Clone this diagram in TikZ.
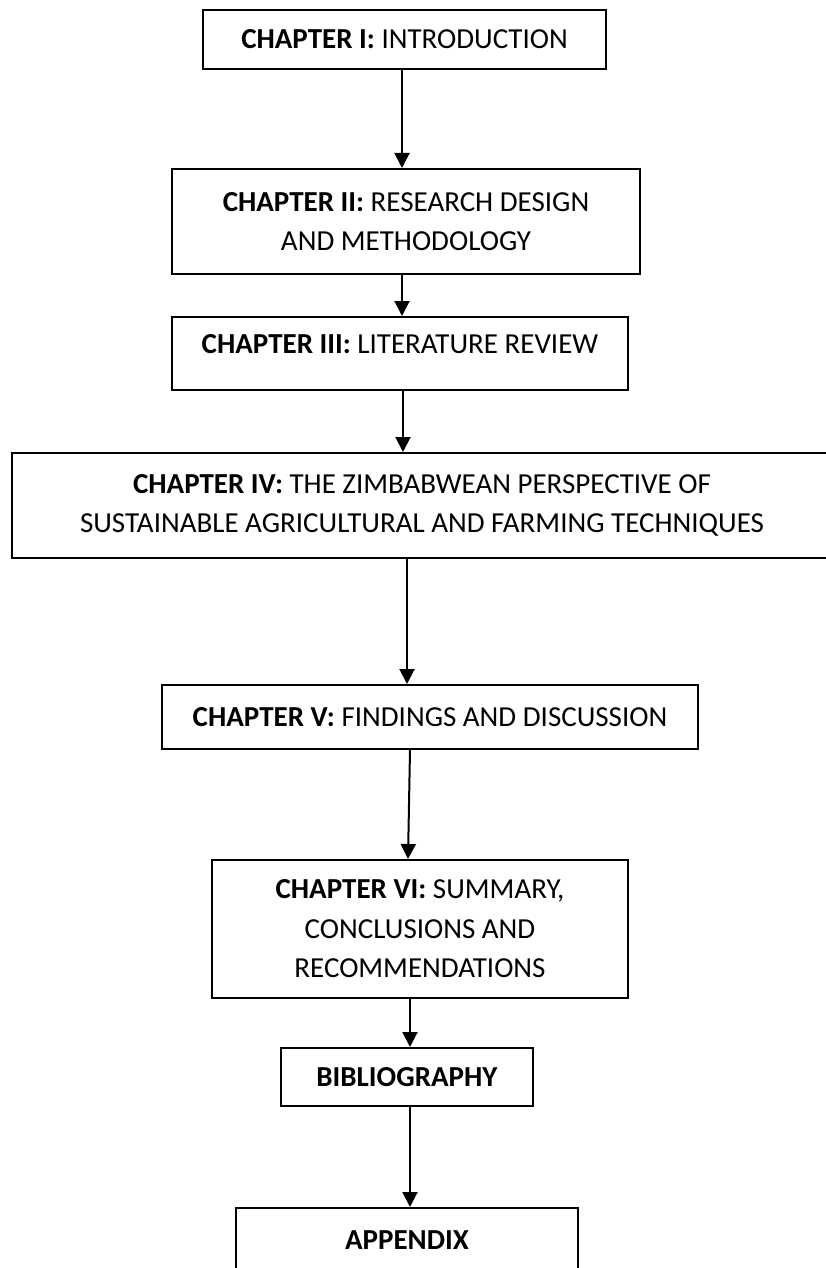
\documentclass[tikz,border=0pt]{standalone}
\usepackage{fontspec}
\setmainfont{Carlito}
\usetikzlibrary{arrows.meta}

\begin{document}
\begin{tikzpicture}[x=1pt, y=-1pt,
    chapbox/.style={draw, line width=1.7pt, anchor=north, align=center, inner sep=0pt,
        font=\fontsize{29}{39.5}\selectfont},
    flow/.style={line width=2pt, -{Triangle[width=15pt,length=15pt]}}]
        % Page frame
        \useasboundingbox (0,0) rectangle (825,1268);

        % The chapter boxes, from top to bottom
        \node[chapbox, minimum width=403pt, minimum height=59pt] (ch1) at (404.5,9)
            {\textbf{CHAPTER I:} INTRODUCTION};
        \node[chapbox, minimum width=468pt, minimum height=105pt] (ch2) at (406,168)
            {\textbf{CHAPTER II:} RESEARCH DESIGN\\AND METHODOLOGY};
        \node[chapbox, minimum width=456pt, minimum height=73pt, text depth=18pt] (ch3) at (400,316)
            {\textbf{CHAPTER III:} LITERATURE REVIEW};
        \node[chapbox, minimum width=820pt, minimum height=105pt] (ch4) at (422,452)
            {\textbf{CHAPTER IV:} THE ZIMBABWEAN PERSPECTIVE OF\\SUSTAINABLE AGRICULTURAL AND FARMING TECHNIQUES};
        \node[chapbox, minimum width=536pt, minimum height=64pt] (ch5) at (430,684)
            {\textbf{CHAPTER V:} FINDINGS AND DISCUSSION};
        \node[chapbox, minimum width=416pt, minimum height=138pt] (ch6) at (420,859)
            {\textbf{CHAPTER VI:} SUMMARY,\\CONCLUSIONS AND\\RECOMMENDATIONS};
        \node[chapbox, minimum width=252pt, minimum height=58pt] (bib) at (407,1047)
            {\textbf{BIBLIOGRAPHY}};
        \node[chapbox, minimum width=342pt, minimum height=64pt] (app) at (407,1207)
            {\textbf{APPENDIX}};

        % Arrows linking the chapters
        \draw[flow] ([xshift=-2.5pt]ch1.south) -- ([xshift=-4pt]ch2.north);
        \draw[flow] ([xshift=-4pt]ch2.south) -- ([xshift=2pt]ch3.north);
        \draw[flow] ([xshift=3pt]ch3.south) -- ([xshift=-19pt]ch4.north);
        \draw[flow] ([xshift=-15pt]ch4.south) -- ([xshift=-23pt]ch5.north);
        \draw[flow] ([xshift=-20pt]ch5.south) -- ([xshift=-12pt]ch6.north);
        \draw[flow] ([xshift=-10pt]ch6.south) -- ([xshift=3pt]bib.north);
        \draw[flow] ([xshift=3pt]bib.south) -- ([xshift=3pt]app.north);

    \end{tikzpicture}
\end{document}
